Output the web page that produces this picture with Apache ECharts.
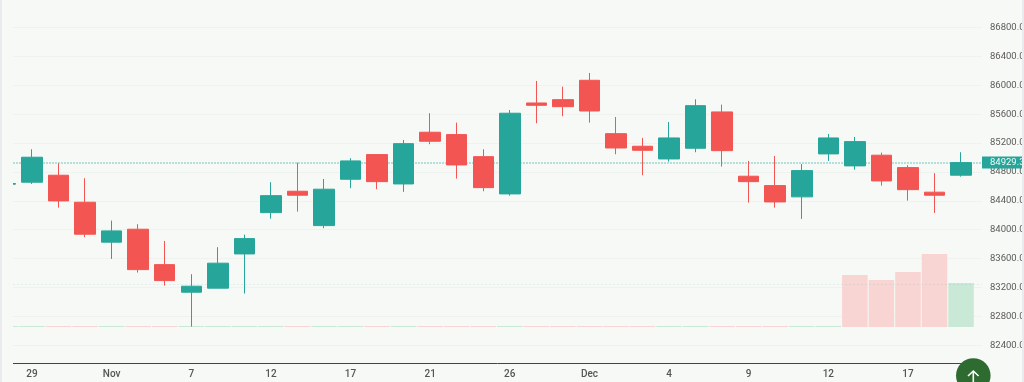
<!DOCTYPE html>
<html><head><meta charset="utf-8">
<style>html,body{margin:0;padding:0;background:#f7f9f6;overflow:hidden}#c{width:1024px;height:382px}</style>
<script src="https://cdn.jsdelivr.net/npm/echarts@6/dist/echarts.min.js"></script>
</head><body><div id="c"></div>
<script>
const tickIndexes=[1,4,7,10,13,16,19,22,25,28,31,34];
const tickLabels=['29','Nov','7','12','17','21','26','Dec','4','9','12','17'];
const opens=[84630,84658,84755,84381,83828,84007,83517,83135,83191,83665,84237,84533,84057,84699,85040,84634,85350,85317,85012,84496,85755,85801,86069,85330,85156,84980,85128,85631,84741,84611,84455,85050,84884,85032,84860,84520,84755];
const closes=[84640,85004,84399,83938,83984,83448,83296,83218,83537,83877,84472,84478,84561,84953,84666,85192,85225,84897,84583,85613,85723,85704,85644,85132,85100,85271,85718,85095,84666,84385,84819,85271,85220,84676,84555,84478,84929.36];
const lows=[84630,84634,84306,83897,83596,83407,83227,82659,83191,83116,84154,84251,84021,84575,84561,84524,85184,84708,84533,84472,85474,85571,85483,85045,84755,84943,85073,84874,84376,84306,84150,84953,84832,84611,84403,84233,84735];
const highs=[84640,85114,84921,84713,84127,84077,83845,83384,83758,83932,84658,84929,84703,84990,85040,85243,85613,85483,85114,85658,86060,85981,86170,85561,85271,85492,85806,85732,84953,85022,84911,85326,85285,85068,84893,84783,85073];
const volumes=[1,1,1,1,1,1,1,1,1,1,1,1,1,1,1,1,1,1,1,1,1,1,1,1,1,1,1,1,1,1,1,1,52,47,55,73,44];
const volumeUp=[1,1,0,0,1,0,0,1,1,1,1,0,1,1,0,1,0,0,0,1,0,0,0,0,0,1,1,0,0,0,1,1,0,0,0,0,1];
const lastPrice=84929.36, lastVolumeLevel=83250;

const xMin=0.283,xMax=36.79;
const candleData=opens.map((o,i)=>[i,o,closes[i],lows[i],highs[i]]);
const volumeData=volumes.map((v,i)=>({value:[i,v],itemStyle:{color:volumeUp[i]?'#c9e8d6':'#f8d4d3'}}));
const chart=echarts.init(document.getElementById('c'),null,{renderer:'canvas'});
chart.setOption({
  animation:false,
  backgroundColor:'#f7f9f6',
  grid:[{left:13,right:42,top:-1.4,bottom:7.8,outerBoundsMode:'none'},{left:13,right:42,bottom:55,height:100,outerBoundsMode:'none'}],
  xAxis:[{
    type:'value',gridIndex:0,min:xMin,max:xMax,offset:-11.2,position:'bottom',
    splitLine:{show:false},axisTick:{show:false},
    axisLine:{show:true,onZero:false,lineStyle:{color:'#3f4350',width:1}},
    axisLabel:{customValues:tickIndexes,margin:6,fontSize:10,fontWeight:500,color:'#555',fontFamily:'Roboto',
      formatter:v=>tickLabels[tickIndexes.indexOf(v)]||''}
  },{type:'value',gridIndex:1,min:xMin,max:xMax,show:false}],
  yAxis:[{
    type:'value',gridIndex:0,position:'right',min:82000,max:87200,interval:400,scale:true,
    axisLine:{show:false},axisTick:{show:false},
    splitLine:{show:true,showMinLine:false,lineStyle:{color:'#f0f2ef',width:1}},
    axisLabel:{margin:8,fontSize:9.5,color:'#5a5a5a',fontFamily:'Roboto',showMinLabel:false,showMaxLabel:false,
      formatter:v=>v.toFixed(2)}
  },{type:'value',gridIndex:1,min:0,max:100,show:false}],
  series:[{
    type:'bar',name:'Volume',xAxisIndex:1,yAxisIndex:1,barWidth:25.5,data:volumeData,z:1
  },{
    type:'candlestick',name:'Price',xAxisIndex:0,yAxisIndex:0,barWidth:21,z:3,clip:true,
    encode:{x:0,y:[1,2,3,4]},data:candleData,
    itemStyle:{color:'#26a69a',color0:'#f25552',borderColor:'#26a69a',borderColor0:'#f25552',borderWidth:1},
    markLine:{
      silent:true,symbol:'none',z:2,animation:false,
      data:[
        {yAxis:lastPrice,lineStyle:{color:'rgba(38,166,154,.42)',type:[2,1],width:1.5},
         label:{show:true,position:'end',distance:0,formatter:'84929.36',backgroundColor:'#26a69a',color:'#f2fbf9',
           fontSize:9.5,fontWeight:400,fontFamily:'Roboto',padding:[1,0,1,8],lineHeight:10,align:'left',verticalAlign:'middle'}},
        {yAxis:lastVolumeLevel,lineStyle:{color:'rgba(38,166,154,.12)',type:[2,2],width:1},label:{show:false}}
      ]
    }
  }],
  graphic:[
    {type:'rect',z:40,shape:{x:0,y:0,width:13,height:382},style:{fill:'#f7f9f6'}},
    {type:'rect',z:50,shape:{x:0,y:0,width:2,height:382},style:{fill:'#e9ebef'}},
    {type:'rect',z:50,shape:{x:1022,y:0,width:2,height:382},style:{fill:'#e9ebef'}},
    {type:'circle',z:60,shape:{cx:973.3,cy:375.6,r:17.3},style:{fill:'#2e6b30'}},
    {type:'polyline',z:61,shape:{points:[[973.3,382],[973.3,371]]},style:{stroke:'#fff',lineWidth:1.6,fill:null}},
    {type:'polyline',z:61,shape:{points:[[968,376],[973.3,371],[978.6,376]]},style:{stroke:'#fff',lineWidth:1.6,fill:null}}
  ]
});
</script></body></html>
